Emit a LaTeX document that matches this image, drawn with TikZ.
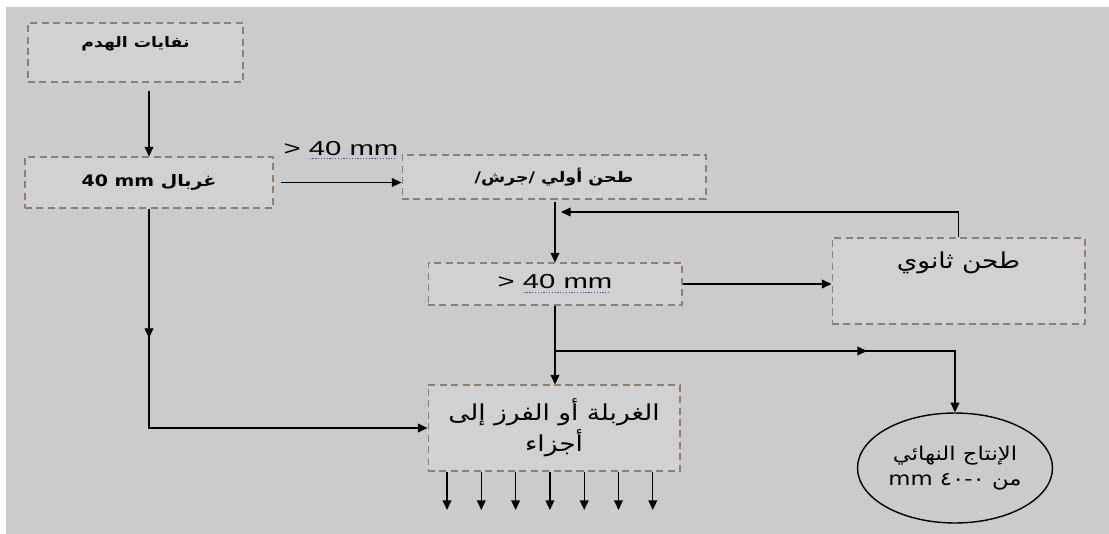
\documentclass[tikz,border=0pt]{standalone}
\usepackage{fontspec}
\setmainfont{Liberation Sans}[FakeStretch=1.45]
\newfontfamily\arabicfont[Script=Arabic,FakeStretch=1.2]{DejaVu Sans}
\TeXXeTstate=1
\usetikzlibrary{calc,positioning,arrows.meta,shapes.geometric}
\definecolor{sheetgray}{HTML}{CBCBCB}
\definecolor{boxgray}{HTML}{D1D1D1}
\definecolor{dashbrown}{HTML}{8E7F74}
\definecolor{spellline}{HTML}{5A4FB0}
\newcommand\artxt[1]{{\arabicfont\beginR #1\endR}}
\newcommand\dotunder[1]{\setbox0\hbox{#1}\rlap{\color{spellline}\raisebox{-2.5pt}{\hbox to\wd0{\leaders\hbox to 1.6pt{\hss\rule{0.7pt}{0.7pt}\hss}\hfill}}}#1}

\begin{document}
\begin{tikzpicture}[x=0.02cm,y=-0.02cm,
    stagebox/.style={rectangle,draw=dashbrown,fill=boxgray,
      dash pattern=on 4pt off 2.5pt,line width=0.6pt,align=center},
    flowline/.style={line width=0.75pt,-{Triangle[length=5.5pt,width=5pt]}},
    sizefont/.style={font=\fontsize{11.5}{13}\selectfont},
    arfont/.style={font=\fontsize{12.5}{15}\selectfont}]
  \useasboundingbox (0,0) rectangle (1109,534);
  \fill[white] (0,0) rectangle (1109,534);
  \fill[sheetgray] (6,7) rectangle (1109,534);

  % boxes
  \node[stagebox,minimum width=4.3cm,minimum height=1.18cm,
        text height=0.3cm,text depth=0.5cm,
        font=\bfseries\fontsize{8.2}{10}\selectfont] (waste) at (135.5,52.5)
        {\artxt{نفايات الهدم}};
  \node[stagebox,minimum width=4.96cm,minimum height=1.02cm,
        font=\bfseries\small] (sieve) at (149,182.5)
        {\artxt{غربال \beginL 40 mm\endL}};
  \node[stagebox,minimum width=6.08cm,minimum height=0.88cm,
        font=\bfseries\fontsize{8.3}{10}\selectfont] (primary) at (554,177)
        {\artxt{طحن أولي /جرش/}};
  \node[stagebox,minimum width=5.08cm,minimum height=0.84cm,
        sizefont] (screen) at (555,284)
        {> \dotunder{40 mm}};
  \node[stagebox,minimum width=5.06cm,minimum height=1.72cm,arfont,
        text height=0.35cm,text depth=0.87cm] (secondary) at (958.5,281)
        {\artxt{طحن ثانوي}};
  \node[stagebox,minimum width=5.04cm,minimum height=1.72cm,arfont] (grading) at (554,428)
        {\artxt{الغربلة أو الفرز إلى}\\[1pt]\artxt{أجزاء}};
  \node[ellipse,draw,line width=0.8pt,minimum width=3.9cm,minimum height=2.2cm,
        align=center,inner sep=0pt,font=\fontsize{10.8}{13}\selectfont] (product) at (955,468)
        {\artxt{الإنتاج النهائي}\\[1pt]\artxt{من ٠-٤٠ \beginL mm\endL}};

  \node[sizefont,anchor=base] (coarselbl) at (341,155) {> \dotunder{40 mm}};

  % connectors
  \coordinate (finesmid) at (149,338);
  \coordinate (fork) at (555,351);
  \coordinate (forkmid) at (867,351);
  \coordinate (loopin) at (561,212);

  \draw[flowline] ([yshift=-0.16cm]waste.south -| sieve.north) -- (sieve.north);
  \draw[flowline] ([xshift=0.14cm]sieve.east) -- (sieve.east -| primary.west);
  \draw[flowline] ([yshift=-0.04cm]primary.south -| screen.north) -- (screen.north);
  \draw[flowline] (secondary.north) |- (loopin);
  \draw[flowline] (screen.east) -- (screen.east -| secondary.west);
  \draw[flowline] (screen.south) -- (screen.south |- grading.north);
  \draw[flowline] (fork) -- (forkmid);
  \draw[flowline] (fork) -| (product.north);
  \draw[flowline] (sieve.south) -- (finesmid);
  \draw[flowline] (sieve.south) |- (grading.west);
  \foreach \i in {0,...,6}{
    \coordinate (out\i) at (447+34.3*\i,510);
    \draw[flowline] (grading.south -| out\i) -- (out\i);
  }
\end{tikzpicture}
\end{document}
